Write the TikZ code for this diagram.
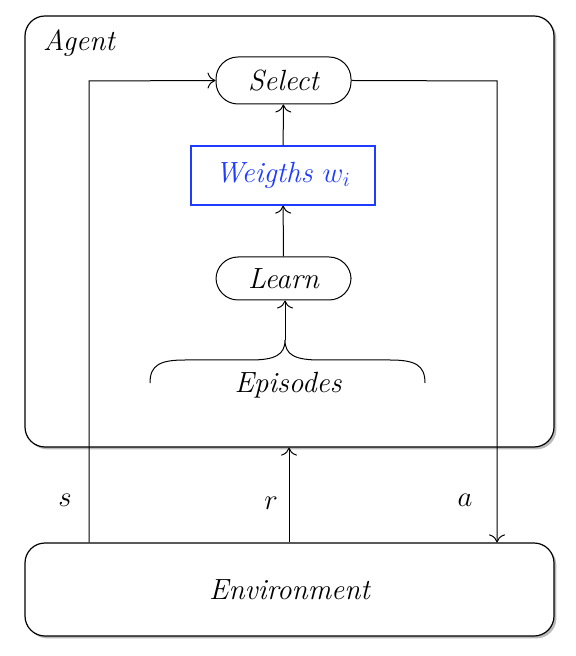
\documentclass[tikz,border=0pt]{standalone}
\usetikzlibrary{shadows,arrows.meta}
\definecolor{wblue}{RGB}{30,60,255}
\begin{document}
\begin{tikzpicture}[x=0.5pt,y=-0.5pt,
  txt/.style={font=\fontsize{14.6}{17}\selectfont\itshape},
  bigbox/.style={draw,line width=0.6pt,rounded corners=10pt,minimum width=264.5pt,
    drop shadow={shadow xshift=1.2pt,shadow yshift=-1.2pt,opacity=0.45,fill=black!60}, fill=white},
  pill/.style={draw,line width=0.5pt,rounded corners=11pt,minimum width=67.5pt,txt},
  conn/.style={line width=0.5pt},
  arr/.style={conn,-{To[length=4pt,width=8pt]}}]
\useasboundingbox (0,0) rectangle (575,656);
\node[bigbox,minimum height=215.5pt] (agent) at (289.5,231.5) {};
\node[bigbox,minimum height=46.5pt,txt] (env) at (289.5,589.5) {Environment};
\node[txt,anchor=center] (agentlbl) at (79,43) {Agent};
\node[pill,minimum height=23.5pt] (select) at (283.5,80.5) {Select};
\node[draw=wblue,line width=0.6pt,minimum width=92pt,minimum height=29.5pt,text=wblue,txt] (w) at (283,175.5) {Weigths $w_i$};
\node[pill,minimum height=21.5pt] (learn) at (283.5,278.5) {Learn};
\node[txt] (ep) at (288,385) {Episodes};
\coordinate (tip) at (285,340);
\coordinate (sx) at (89,81);
\coordinate (ax) at (497,81);
% brace
\draw[conn] (150,383) .. controls (150,365) and (160,360) .. (185,360) -- (250,360)
  .. controls (275,360) and (285,355) .. (tip)
  .. controls (285,355) and (295,360) .. (320,360) -- (390,360)
  .. controls (415,360) and (425,365) .. (425,383);
\draw[arr] (tip) -- (learn.south -| tip);
\draw[arr] (learn) -- (w);
\draw[arr] (w) -- (select);
\draw[arr] (env.north -| sx) -- (sx) -- (select.west);
\draw[arr] (select.east) -- (ax) -- (env.north -| ax);
\draw[arr] (env.north -| 289,0) -- (agent.south -| 289,0);
\node[txt] (s) at (65,500) {$s$};
\node[txt] (r) at (271,503) {$r$};
\node[txt] (a) at (465,500) {$a$};
\end{tikzpicture}
\end{document}
